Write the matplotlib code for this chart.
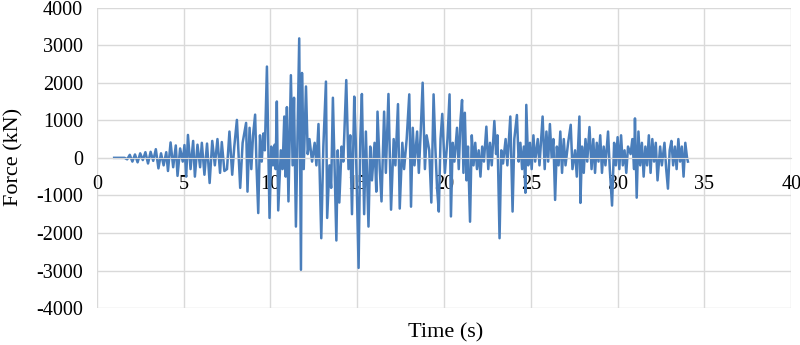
import matplotlib
matplotlib.use('Agg')
import matplotlib.pyplot as plt

# turning points of the force record (time in s, force in kN)
time = [1.0, 1.6, 1.75, 1.9, 2.05, 2.2, 2.35, 2.5, 2.65, 2.8, 2.95, 3.1, 3.25, 3.4, 3.55,
        3.7, 3.85, 4.0, 4.1, 4.25, 4.4, 4.55, 4.65, 4.8, 4.95, 5.05, 5.15, 5.25, 5.4, 5.55,
        5.65, 5.8, 5.95, 6.05, 6.2, 6.35, 6.5, 6.65, 6.8, 6.95, 7.1, 7.2, 7.35, 7.5, 7.64,
        7.8, 7.92, 8.07, 8.26, 8.4, 8.6, 8.68, 8.8, 8.9, 9.0, 9.12, 9.2, 9.3, 9.4, 9.5,
        9.6, 9.68, 9.8, 9.95, 10.05, 10.15, 10.25, 10.3, 10.37, 10.45, 10.6, 10.7, 10.8, 10.88, 10.95,
        11.04, 11.18, 11.28, 11.36, 11.47, 11.66, 11.76, 11.82, 11.92, 12.05, 12.15, 12.25, 12.4, 12.55, 12.65,
        12.77, 12.93, 13.05, 13.2, 13.27, 13.4, 13.5, 13.6, 13.8, 13.88, 13.97, 14.1, 14.2, 14.37, 14.5,
        14.6, 14.7, 14.83, 14.92, 15.08, 15.18, 15.27, 15.4, 15.5, 15.65, 15.75, 15.85, 16.0, 16.1, 16.17,
        16.3, 16.4, 16.55, 16.65, 16.8, 16.95, 17.1, 17.2, 17.35, 17.45, 17.6, 17.7, 17.85, 18.0, 18.1,
        18.2, 18.3, 18.45, 18.55, 18.65, 18.77, 18.9, 19.0, 19.15, 19.27, 19.4, 19.5, 19.6, 19.7, 19.8,
        19.9, 20.05, 20.2, 20.32, 20.4, 20.5, 20.6, 20.75, 20.85, 20.95, 21.04, 21.12, 21.2, 21.3, 21.38,
        21.5, 21.6, 21.7, 21.8, 21.9, 22.0, 22.1, 22.2, 22.3, 22.44, 22.55, 22.65, 22.75, 22.9, 23.0,
        23.08, 23.2, 23.3, 23.4, 23.55, 23.65, 23.82, 23.95, 24.05, 24.2, 24.3, 24.4, 24.5, 24.6, 24.69,
        24.74, 24.85, 24.95, 25.05, 25.15, 25.25, 25.4, 25.5, 25.68, 25.8, 25.9, 26.0, 26.1, 26.2, 26.3,
        26.4, 26.5, 26.6, 26.7, 26.8, 26.9, 27.0, 27.15, 27.3, 27.4, 27.55, 27.65, 27.8, 27.86, 27.95,
        28.05, 28.15, 28.25, 28.38, 28.5, 28.6, 28.7, 28.8, 28.9, 29.0, 29.1, 29.2, 29.3, 29.45, 29.55,
        29.68, 29.8, 29.9, 30.0, 30.1, 30.2, 30.3, 30.4, 30.5, 30.6, 30.75, 30.85, 30.95, 31.0, 31.1,
        31.2, 31.3, 31.4, 31.5, 31.6, 31.7, 31.8, 31.9, 32.0, 32.1, 32.2, 32.3, 32.45, 32.55, 32.7,
        32.8, 32.9, 33.0, 33.1, 33.2, 33.3, 33.4, 33.5, 33.6, 33.7, 33.8, 33.9, 34.0, 34.05]

force = [0, 0, -40, 80, -100, 90, -120, 120, -60, 150, -150, 160, -80, 230, -280,
         120, -200, 150, -350, 410, -250, 330, -480, 250, -100, 340, -500, 610, -300, 450,
         -500, 350, -250, 400, -450, 380, -670, 450, -200, 500, -400, 420, -350, -300, 700,
         -450, 300, 1010, -800, 400, 930, -900, 800, -300, 600, 1150, -200, -1470, 600, -100,
         650, 200, 2430, -1600, 300, -200, 350, -300, 1500, -1400, 200, -300, 1100, -500, 1350,
         -1160, 2200, -200, 1600, -1830, 3180, -2980, 2260, -300, 1900, 100, 500, -100, 400, -200,
         900, -2140, 300, 2030, -1600, -200, -800, 1600, -2200, 200, -1190, 300, -100, 2070, -300,
         600, -1500, 1630, 400, -2930, 500, 1700, -1500, 700, -1830, 300, -600, 400, -900, 1230,
         -300, -1160, 1230, -400, 1700, -1380, 500, -200, 1430, -1350, 400, -300, 500, 1690, -1300,
         800, -200, 700, -400, 600, 2000, -300, 600, 200, -1190, 1690, 300, -800, -1430, 500,
         1170, -400, 500, 1690, -1560, 400, -100, 800, -300, 1000, 1540, -400, 1200, -600, 300,
         -1700, 600, -200, 400, -300, 200, -500, 300, -100, 830, -300, 400, -200, 980, 100,
         600, -2140, 200, -150, 500, -200, 1100, -1430, 500, 1140, -100, 400, -300, 300, -930,
         1410, -200, 400, -300, 600, -100, 500, -200, 1100, -300, 700, -100, 900, 0, 500,
         -1120, 300, -200, 700, -400, 500, -200, 400, 880, -300, 200, -500, 1100, -1200, 300,
         -400, 500, -100, 820, -300, 500, -400, 400, -100, 600, -400, 300, -200, 700, -300,
         -1270, 400, -200, 550, -300, 600, -200, 200, -400, 300, 100, 500, -300, 1050, -1060,
         700, -200, 400, -500, 300, -200, 600, -400, 500, -100, 400, -600, 300, -200, 400,
         -300, -820, 200, 450, -200, 300, -300, 500, -100, 300, -500, 400, 0, -100]

x_ticks = [0, 5, 10, 15, 20, 25, 30, 35, 40]
y_ticks = [-4000, -3000, -2000, -1000, 0, 1000, 2000, 3000, 4000]

plt.rcParams['font.family'] = ['Liberation Serif', 'DejaVu Serif']
plt.rcParams['axes.unicode_minus'] = False

fig = plt.figure(figsize=(8, 3.45), dpi=100)
ax = fig.add_axes([0.121, 0.107, 0.868, 0.871])
ax.plot(time, force, color='#4A7EBB', linewidth=1.8)

ax.set_xlim(0, 40)
ax.set_ylim(-4000, 4000)
ax.set_xticks(x_ticks)
ax.set_yticks(y_ticks)
ax.grid(True, color='#d9d9d9', linewidth=1.0)
ax.set_axisbelow(True)
for s in ['top', 'right', 'left']:
    ax.spines[s].set_visible(False)
ax.spines['bottom'].set_position(('data', 0))
ax.spines['bottom'].set_color('#d9d9d9')
ax.tick_params(axis='x', length=0, pad=12, labelsize=14.5)
ax.tick_params(axis='y', length=0, pad=10, labelsize=14.5)

fig.text(0.557, 0.035, 'Time (s)', ha='center', va='center', fontsize=16)
fig.text(0.017, 0.545, 'Force (kN)', ha='center', va='center', rotation=90, fontsize=16)

fig.savefig('out.png', dpi=100)
